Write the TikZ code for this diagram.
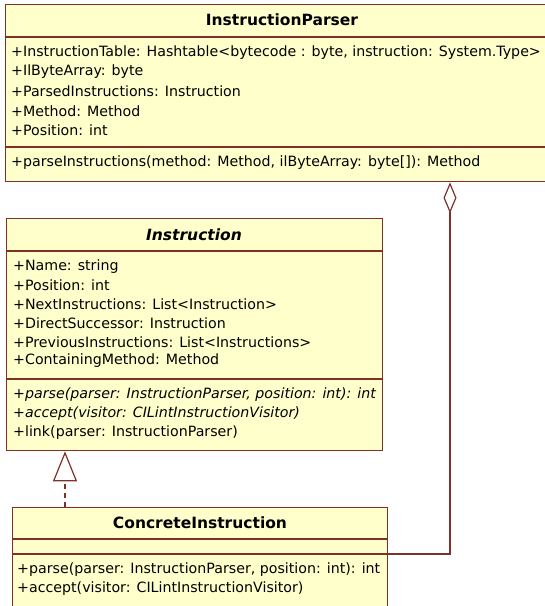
\documentclass[tikz,border=0pt]{standalone}
\usepackage{fontspec}
\setmainfont{DejaVu Sans}
\usetikzlibrary{arrows.meta}
\definecolor{umlfill}{RGB}{255,255,204}
\definecolor{umlline}{RGB}{128,48,40}
\begin{document}
\begin{tikzpicture}[x=1pt,y=-1pt,
  cls/.style={draw=umlline, fill=umlfill, line width=1.3pt, inner sep=0pt, anchor=north west},
  sep/.style={draw=umlline, line width=1.3pt},
  txt/.style={anchor=west, inner sep=0pt, font=\fontsize{14.2}{16}\selectfont},
  ttl/.style={inner sep=0pt, font=\fontsize{15.5}{17}\selectfont\bfseries},
  conn/.style={draw=umlline, line width=1.2pt}]
\useasboundingbox (0,0) rectangle (545,606);
% boxes
\node[cls, minimum width=540pt, minimum height=177pt] (ip) at (5,4) {};
\node[cls, minimum width=376pt, minimum height=232pt] (inst) at (6,218) {};
\node[cls, minimum width=375pt, minimum height=102pt] (ci) at (12,507) {};
% compartments
\draw[sep] (ip.west |- 0,37) -- (ip.east |- 0,37);
\draw[sep] (ip.west |- 0,147) -- (ip.east |- 0,147);
\draw[sep] (inst.west |- 0,251) -- (inst.east |- 0,251);
\draw[sep] (inst.west |- 0,379) -- (inst.east |- 0,379);
\draw[sep] (ci.west |- 0,539) -- (ci.east |- 0,539);
\draw[sep] (ci.west |- 0,554) -- (ci.east |- 0,554);
% InstructionParser
\node[ttl] (ipt) at (282,20) {InstructionParser};
\node[txt] (ipa1) at (11,53) {+InstructionTable: Hashtable<bytecode : byte, instruction: System.Type>};
\node[txt] (ipa2) at (11,72) {+IlByteArray: byte};
\node[txt] (ipa3) at (11,91) {+ParsedInstructions: Instruction};
\node[txt] (ipa4) at (11,111) {+Method: Method};
\node[txt] (ipa5) at (11,130) {+Position: int};
\node[txt] (ipm1) at (11,163) {+parseInstructions(method: Method, ilByteArray: byte[]): Method};
% Instruction
\node[ttl] (instt) at (194,235) {\itshape Instruction};
\node[txt] (ia1) at (13,267) {+Name: string};
\node[txt] (ia2) at (13,285) {+Position: int};
\node[txt] (ia3) at (13,304) {+NextInstructions: List<Instruction>};
\node[txt] (ia4) at (13,323) {+DirectSuccessor: Instruction};
\node[txt] (ia5) at (13,342) {+PreviousInstructions: List<Instructions>};
\node[txt] (ia6) at (13,361) {+ContainingMethod: Method};
\node[txt] (im1) at (13,395) {\itshape +parse(parser: InstructionParser, position: int): int};
\node[txt] (im2) at (13,414) {\itshape +accept(visitor: CILintInstructionVisitor)};
\node[txt] (im3) at (13,433) {+link(parser: InstructionParser)};
% ConcreteInstruction
\node[ttl] (cit) at (200,523) {ConcreteInstruction};
\node[txt] (cm1) at (17,570) {+parse(parser: InstructionParser, position: int): int};
\node[txt] (cm2) at (17,589) {+accept(visitor: CILintInstructionVisitor)};
% connectors
\coordinate (aggx) at (450,554);
\draw[conn, {Diamond[open,fill=white,length=31pt,width=13pt]}-] (ip.south -| aggx) -- (aggx) -- (ci.east |- aggx);
\coordinate (rx) at (65,480);
\draw[conn, dash pattern=on 5pt off 4pt, -{Triangle[open,fill=white,length=30pt,width=24pt]}] (ci.north -| rx) -- (inst.south -| rx);
\end{tikzpicture}
\end{document}
